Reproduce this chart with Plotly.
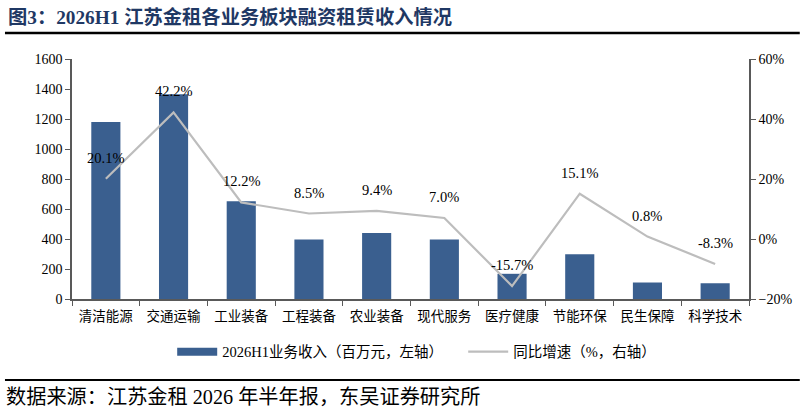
import plotly.graph_objects as go

categories = ["清洁能源", "交通运输", "工业装备", "工程装备", "农业装备",
              "现代服务", "医疗健康", "节能环保", "民生保障", "科学技术"]
revenue = [1180, 1365, 652, 397, 440, 397, 168, 298, 110, 105]
growth = [20.1, 42.2, 12.2, 8.5, 9.4, 7.0, -15.7, 15.1, 0.8, -8.3]
growth_labels = ["{:.1f}%".format(g) for g in growth]

serif = "Liberation Serif, Times New Roman, Noto Sans CJK SC"
bar_col = "#3A5F8F"

fig = go.Figure()
fig.add_trace(go.Bar(
    x=categories, y=revenue, name="2026H1业务收入（百万元，左轴）",
    marker=dict(color=bar_col, line=dict(width=0)), width=0.43, showlegend=False,
))
# wide legend swatch for the bars
fig.add_trace(go.Scatter(
    x=[None], y=[None], name="2026H1业务收入（百万元，左轴）",
    mode="lines", line=dict(color=bar_col, width=8),
))
fig.add_trace(go.Scatter(
    x=categories, y=growth, name="同比增速（%，右轴）", yaxis="y2",
    mode="lines", line=dict(color="#BDBDBD", width=2.2),
))

for c, g, t in zip(categories, growth, growth_labels):
    fig.add_annotation(x=c, y=g, yref="y2", text=t, showarrow=False,
                       yshift=21, font=dict(family=serif, size=14.5, color="#000"))

axis_col = "#595959"
fig.update_layout(
    width=805, height=414,
    margin=dict(l=72, r=56, t=59, b=115, autoexpand=False),
    plot_bgcolor="white", paper_bgcolor="white",
    showlegend=True,
    legend=dict(orientation="h", x=0.148, y=-0.22, xanchor="left", yanchor="middle",
                bgcolor="rgba(0,0,0,0)",
                font=dict(family=serif, size=14.5, color="#000"),
                entrywidth=236, itemwidth=40),
    xaxis=dict(tickson="boundaries", ticks="outside", ticklen=5, tickcolor=axis_col,
               showline=True, linecolor=axis_col, linewidth=1.5, showgrid=False,
               ticklabelstandoff=4,
               tickfont=dict(family="Noto Sans CJK SC", size=13.5, color="#000")),
    yaxis=dict(range=[0, 1600], dtick=200, ticks="outside", ticklen=5, tickcolor=axis_col,
               showline=True, linecolor=axis_col, linewidth=1.5, showgrid=False, zeroline=False,
               tickfont=dict(family=serif, size=14, color="#000")),
    yaxis2=dict(range=[-20, 60], dtick=20, ticksuffix="%", overlaying="y", side="right",
                ticks="outside", ticklen=5, tickcolor=axis_col,
                showline=True, linecolor=axis_col, linewidth=1.5, showgrid=False, zeroline=False,
                tickfont=dict(family=serif, size=14, color="#000")),
    bargap=0.5,
)

# title, rules and source note
fig.add_annotation(xref="paper", yref="paper", x=-0.097, y=1.175, xanchor="left", yanchor="middle",
                   text="<b>图3：2026H1 江苏金租各业务板块融资租赁收入情况</b>", showarrow=False,
                   font=dict(family=serif, size=19.3, color="#1F3864"))
fig.add_shape(type="line", xref="paper", yref="paper", x0=-0.099, x1=1.075, y0=1.108, y1=1.108,
              line=dict(color="#000", width=2.5))
fig.add_shape(type="line", xref="paper", yref="paper", x0=-0.099, x1=1.075, y0=-0.3375, y1=-0.3375,
              line=dict(color="#000", width=2))
fig.add_annotation(xref="paper", yref="paper", x=-0.1, y=-0.41, xanchor="left", yanchor="middle",
                   text="数据来源：江苏金租 2026 年半年报，东吴证券研究所", showarrow=False,
                   font=dict(family=serif, size=20.2, color="#000"))

fig.write_html("out.html", config={"displayModeBar": False},
               post_script="document.body.style.margin='0';")
